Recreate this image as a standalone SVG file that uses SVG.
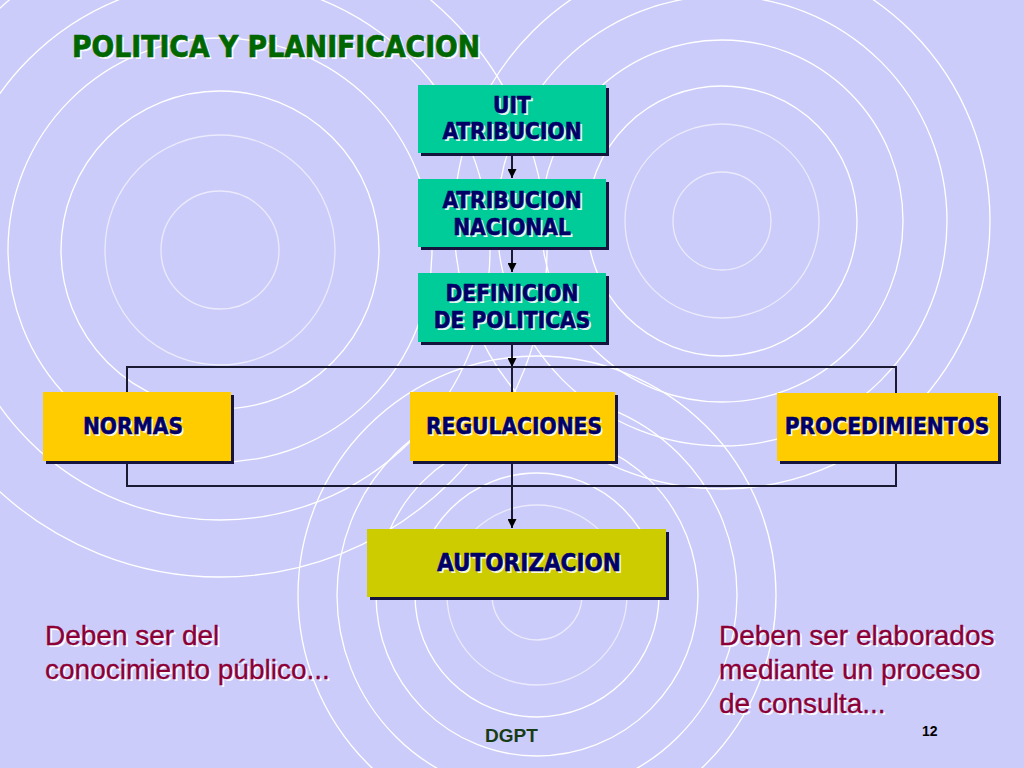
<svg xmlns="http://www.w3.org/2000/svg" width="1024" height="768" viewBox="0 0 1024 768">
<defs>
<style>
.ring{fill:none;stroke:#ffffff;stroke-width:1.3}
.faint{stroke-opacity:0.6}
.shadow{fill:#14143c}
.teal{fill:#00cc99}
.yel{fill:#ffcc00}
.olive{fill:#cccc00}
.bt{font-family:"DejaVu Sans Condensed","DejaVu Sans",Verdana,sans-serif;font-stretch:condensed;font-weight:bold;font-size:22.5px;text-anchor:middle}
.bt .s{fill:#ffffff;fill-opacity:0.9}
.bt .f{fill:#000066;stroke:#000066;stroke-width:0.5}
.conn{fill:none;stroke:#1a1a33;stroke-width:2}
.note{font-family:"Liberation Sans",Arial,sans-serif;font-size:28px}
.note .s{fill:#ffffff;fill-opacity:0.9}
.note .f{fill:#8c0036;stroke:#8c0036;stroke-width:0.3}
</style>
<marker id="ah" viewBox="0 0 10 10" refX="10" refY="5" markerWidth="10" markerHeight="9" markerUnits="userSpaceOnUse" orient="auto">
<path d="M0,0 L10,5 L0,10 z" fill="#000000"/>
</marker>
</defs>
<rect width="1024" height="768" fill="#ccccfa"/>
<g id="background">
<g transform="translate(220,250)">
<circle class="ring faint" r="59"/>
<circle class="ring faint" r="115"/>
<circle class="ring" r="159"/>
<circle class="ring" r="212"/>
<circle class="ring" r="270"/>
<circle class="ring" r="327"/>
</g>
<g transform="translate(722,221)">
<circle class="ring faint" r="49"/>
<circle class="ring faint" r="97"/>
<circle class="ring" r="135"/>
<circle class="ring" r="181"/>
<circle class="ring" r="225"/>
<circle class="ring" r="268"/>
</g>
<g transform="translate(537,595)">
<circle class="ring faint" r="45"/>
<circle class="ring faint" r="90"/>
<circle class="ring" r="122"/>
<circle class="ring" r="161"/>
<circle class="ring" r="200"/>
<circle class="ring" r="239"/>
</g>
</g>
<g id="title" font-family="DejaVu Sans Condensed,DejaVu Sans,Verdana,sans-serif" font-stretch="condensed" font-weight="bold" font-size="29.7">
<text x="74" y="59" fill="#ffffff" fill-opacity="0.9">POLITICA Y PLANIFICACION</text>
<text x="72" y="57" fill="#006600" stroke="#006600" stroke-width="0.6">POLITICA Y PLANIFICACION</text>
</g>
<g id="connectors">
<path class="conn" d="M512,156 V178" marker-end="url(#ah)"/>
<path class="conn" d="M512,250 V272" marker-end="url(#ah)"/>
<path class="conn" d="M512,345 V367" marker-end="url(#ah)"/>
<path class="conn" d="M512,367 V392"/>
<path class="conn" d="M127,392 V367 H896 V393"/>
<path class="conn" d="M127,464 V486 H896 V464"/>
<path class="conn" d="M512,464 V528" marker-end="url(#ah)"/>
</g>
<g id="node-uit">
<rect class="shadow" x="421" y="88" width="188" height="68"/>
<rect class="teal" x="418" y="85" width="188" height="68"/>
<g class="bt"><text class="s" x="514" y="115">UIT</text><text class="f" x="512" y="113">UIT</text>
<text class="s" x="514" y="141">ATRIBUCION</text><text class="f" x="512" y="139">ATRIBUCION</text></g>
</g>
<g id="node-nacional">
<rect class="shadow" x="421" y="182" width="188" height="68"/>
<rect class="teal" x="418" y="179" width="188" height="68"/>
<g class="bt"><text class="s" x="514" y="210">ATRIBUCION</text><text class="f" x="512" y="208">ATRIBUCION</text>
<text class="s" x="514" y="237">NACIONAL</text><text class="f" x="512" y="235">NACIONAL</text></g>
</g>
<g id="node-politicas">
<rect class="shadow" x="421" y="276" width="188" height="69"/>
<rect class="teal" x="418" y="273" width="188" height="69"/>
<g class="bt"><text class="s" x="514" y="303">DEFINICION</text><text class="f" x="512" y="301">DEFINICION</text>
<text class="s" x="514" y="330">DE POLITICAS</text><text class="f" x="512" y="328">DE POLITICAS</text></g>
</g>
<g id="node-normas">
<rect class="shadow" x="46" y="395" width="188" height="69"/>
<rect class="yel" x="43" y="392" width="188" height="69"/>
<g class="bt"><text class="s" x="135" y="436">NORMAS</text><text class="f" x="133" y="434">NORMAS</text></g>
</g>
<g id="node-regulaciones">
<rect class="shadow" x="413" y="395" width="205" height="69"/>
<rect class="yel" x="410" y="392" width="205" height="69"/>
<g class="bt"><text class="s" x="516" y="436">REGULACIONES</text><text class="f" x="514" y="434">REGULACIONES</text></g>
</g>
<g id="node-procedimientos">
<rect class="shadow" x="780" y="396" width="221" height="68"/>
<rect class="yel" x="777" y="393" width="221" height="68"/>
<g class="bt"><text class="s" x="889" y="436">PROCEDIMIENTOS</text><text class="f" x="887" y="434">PROCEDIMIENTOS</text></g>
</g>
<g id="node-autorizacion">
<rect class="shadow" x="370" y="532" width="299" height="68"/>
<rect class="olive" x="367" y="529" width="299" height="68"/>
<g class="bt" style="text-anchor:start;font-size:24px"><text class="s" x="439" y="573">AUTORIZACION</text><text class="f" x="437" y="571">AUTORIZACION</text></g>
</g>
<g id="note-left" class="note">
<text class="s" x="47" y="647">Deben ser del</text><text class="f" x="45" y="645">Deben ser del</text>
<text class="s" x="47" y="681">conocimiento público...</text><text class="f" x="45" y="679">conocimiento público...</text>
</g>
<g id="note-right" class="note">
<text class="s" x="721" y="647">Deben ser elaborados</text><text class="f" x="719" y="645">Deben ser elaborados</text>
<text class="s" x="721" y="681">mediante un proceso</text><text class="f" x="719" y="679">mediante un proceso</text>
<text class="s" x="721" y="715">de consulta...</text><text class="f" x="719" y="713">de consulta...</text>
</g>
<g id="footer" font-family="Liberation Sans,Arial,sans-serif" font-weight="bold">
<text x="485" y="742" font-size="19" fill="#173d17">DGPT</text>
<text x="922" y="736" font-size="14" fill="#000000">12</text>
</g>
</svg>
